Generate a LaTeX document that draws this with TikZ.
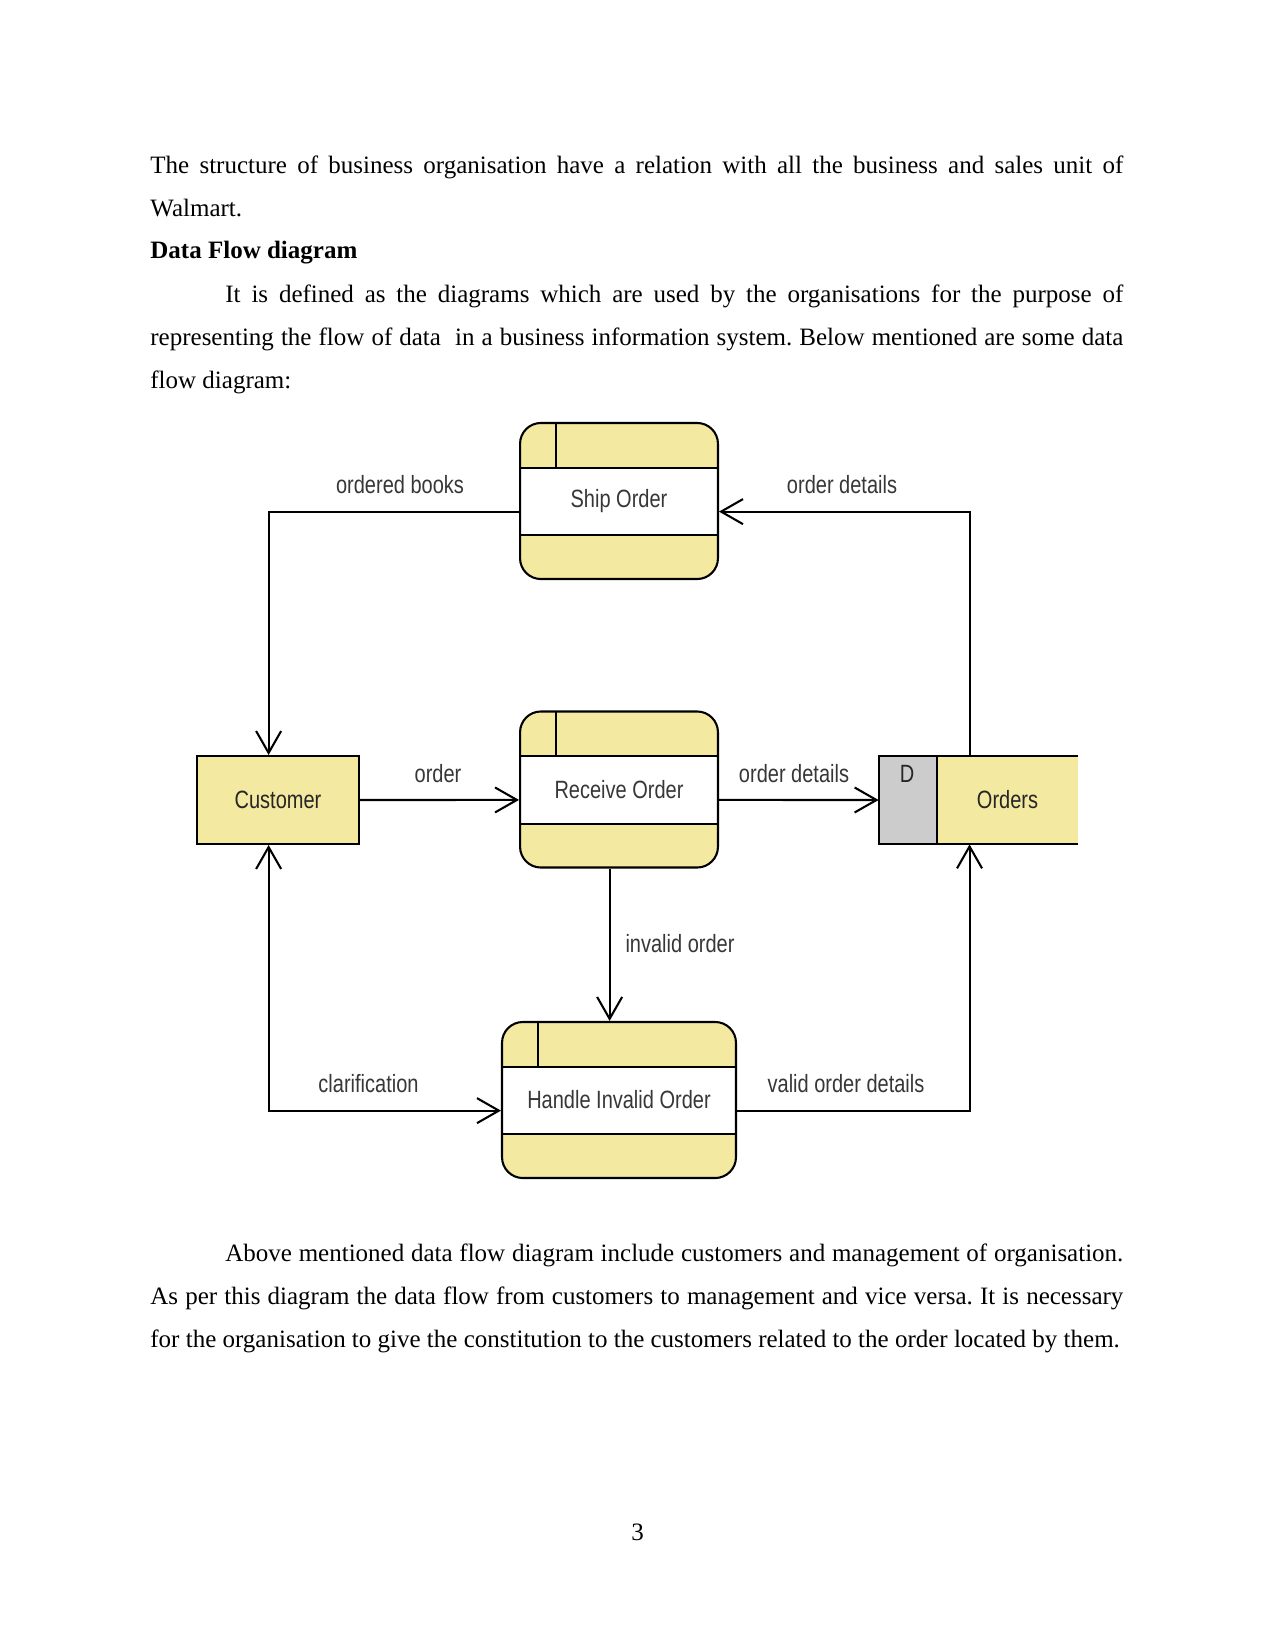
\documentclass[tikz,border=0pt]{standalone}
\usepackage{fontspec}
\setmainfont{Liberation Serif}
\newfontfamily\dfdfont[FakeStretch=0.8]{Liberation Sans}
\usetikzlibrary{arrows.meta,calc}
\definecolor{dfdyellow}{RGB}{243,233,160}
\definecolor{dfdgray}{RGB}{204,204,204}
\definecolor{dfdtext}{RGB}{55,55,55}
\frenchspacing
\begin{document}
\begin{tikzpicture}[x=0.48pt,y=-0.48pt,
  bodytext/.style={anchor=base west, inner sep=0pt, font=\fontsize{12pt}{14pt}\selectfont},
  dfdlabel/.style={inner sep=0pt, font=\dfdfont\fontsize{12pt}{14pt}\selectfont, text=dfdtext},
  process/.style={draw=black, line width=1pt, fill=dfdyellow, rounded corners=10pt,
    minimum width=95pt, minimum height=74.9pt, inner sep=0pt,
    font=\dfdfont\fontsize{12pt}{14pt}\selectfont, text=dfdtext,
    path picture={
      \fill[white, sharp corners] ([yshift=-21.4pt]path picture bounding box.north west) rectangle ([yshift=21.1pt]path picture bounding box.south east);
      \draw[black, line width=1pt, sharp corners] ([yshift=-21.4pt]path picture bounding box.north west) -- ([yshift=-21.4pt]path picture bounding box.north east);
      \draw[black, line width=1pt, sharp corners] ([yshift=21.1pt]path picture bounding box.south west) -- ([yshift=21.1pt]path picture bounding box.south east);
      \draw[black, line width=1pt, sharp corners] ([xshift=17.3pt]path picture bounding box.north west) -- ([xshift=17.3pt,yshift=-21.4pt]path picture bounding box.north west);
    }},
  entity/.style={draw=black, line width=1pt, fill=dfdyellow, minimum width=77.8pt, minimum height=42.2pt,
    inner sep=0pt, font=\dfdfont\fontsize{12pt}{14pt}\selectfont, text=black!85},
  store/.style={draw=none, fill=dfdyellow, minimum width=95.5pt, minimum height=42.2pt, inner sep=0pt,
    path picture={
      \fill[dfdgray] (path picture bounding box.north west) rectangle ([xshift=27.8pt]path picture bounding box.south west);
      \draw[black, line width=1pt] ([xshift=27.8pt]path picture bounding box.north west) -- ([xshift=27.8pt]path picture bounding box.south west);
    }},
  flow/.style={draw=black, line width=1pt, -{Straight Barb[length=10.5pt,width=12pt]}},
  flowboth/.style={draw=black, line width=1pt, {Straight Barb[length=10.5pt,width=12pt]}-{Straight Barb[length=10.5pt,width=12pt]}}
]
\useasboundingbox (0,0) rectangle (1275,1651);
\fill[white] (0,0) rectangle (1275,1651);

% body text
\node[bodytext] (t1) at (150,173.7) {\makebox[467pt][s]{The structure of business organisation have a relation with all the business and sales unit of}};
\node[bodytext] (t2) at (150,216.4) {Walmart.};
\node[bodytext, font=\fontsize{12pt}{14pt}\selectfont\bfseries] (t3) at (150,259) {Data Flow diagram};
\node[bodytext] (t4) at (225,302) {\makebox[431pt][s]{It is defined as the diagrams which are used by the organisations for the purpose of}};
\node[bodytext] (t5) at (150,345.3) {\makebox[467pt][s]{representing the flow of data\ \ in a business information system. Below mentioned are some data}};
\node[bodytext] (t6) at (150,388.5) {flow diagram:};

\node[bodytext] (b1) at (225,1261.3) {\makebox[431pt][s]{Above mentioned data flow diagram include customers and management of organisation.}};
\node[bodytext] (b2) at (150,1304.4) {\makebox[467pt][s]{As per this diagram the data flow from customers to management and vice versa. It is necessary}};
\node[bodytext] (b3) at (150,1347.6) {for the organisation to give the constitution to the customers related to the order located by them.};

\node[inner sep=0pt, anchor=base, font=\fontsize{12pt}{14pt}\selectfont] (pg) at (637.5,1540) {3};

% diagram nodes
\node[process] (ship) at (619,501) {Ship Order};
\node[process] (recv) at (619,789.5) {Receive Order};
\node[process, minimum width=112.3pt] (handle) at (619,1100) {Handle Invalid Order};
\node[entity] (cust) at (278,800) {Customer};
\node[store] (orders) at (978.5,800) {};
\draw[black, line width=1pt] (orders.north east) -- (orders.north west) -- (orders.south west) -- (orders.south east);
\node[dfdlabel, text=black!85] (orderstxt) at (1007.5,800) {Orders};
\node[dfdlabel, text=black!85] (dtxt) at (907,774) {D};

% connectors
\draw[flow] ([yshift=-5.1pt]ship.west) -| ([xshift=-4.5pt]cust.north);
\draw[flow] ([xshift=-4.3pt]orders.north) |- ([yshift=-5.1pt]ship.east);
\draw[flow] (cust.east) -- ([yshift=-5pt]recv.west);
\draw[flow] ([yshift=-5pt]recv.east) -- (orders.west);
\draw[flow] ([xshift=-4.5pt]recv.south) -- ([xshift=-4.5pt]handle.north);
\draw[flowboth] ([xshift=-4.5pt]cust.south) |- ([yshift=-5.1pt]handle.west);
\draw[flow] ([yshift=-5.1pt]handle.east) -| ([xshift=-4.3pt]orders.south);

% connector labels
\node[dfdlabel] (l1) at (400,485) {ordered books};
\node[dfdlabel] (l2) at (842,485) {order details};
\node[dfdlabel] (l3) at (438,774) {order};
\node[dfdlabel] (l4) at (794,774) {order details};
\node[dfdlabel] (l5) at (680,944) {invalid order};
\node[dfdlabel] (l6) at (368.5,1084) {clarification};
\node[dfdlabel] (l7) at (846,1084) {valid order details};
\end{tikzpicture}
\end{document}
